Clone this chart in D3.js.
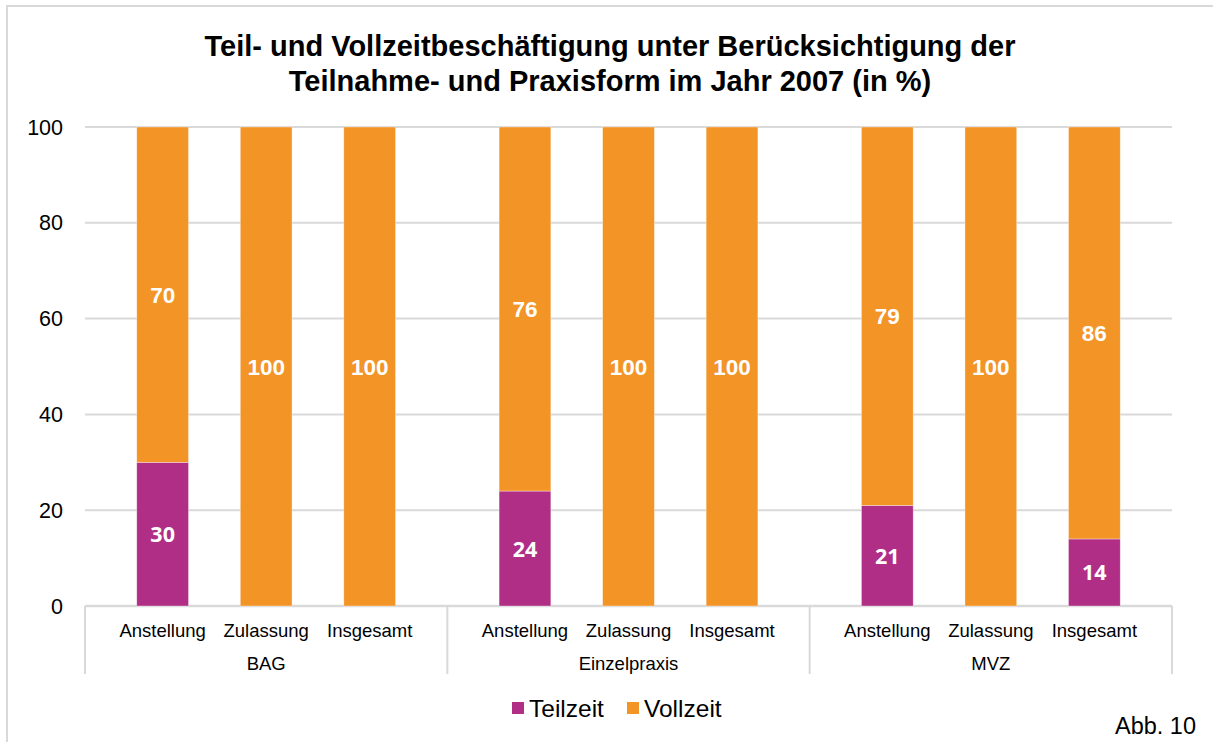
<!doctype html>
<head>
  <meta charset="utf-8">
  <script src="https://cdnjs.cloudflare.com/ajax/libs/d3/7.8.2/d3.min.js"></script>
</head>
<style>
    body { margin: 0; background: #fff; }
    svg { display: block; font-family: "Liberation Sans", Arial, sans-serif; }
</style>
<body>
    <div id="chart"></div>
    <script>
        // Daten
        const groups = ["BAG", "Einzelpraxis", "MVZ"];
        const forms = ["Anstellung", "Zulassung", "Insgesamt"];
        const teilzeit = [30, 0, 0, 24, 0, 0, 21, 0, 14];
        const vollzeit = [70, 100, 100, 76, 100, 100, 79, 100, 86];
        const yTicks = [0, 20, 40, 60, 80, 100];
        const seriesNames = ["Teilzeit", "Vollzeit"];
        const colors = ["#b02e86", "#f39427"];

        const rows = [];
        groups.forEach((g, gi) => forms.forEach((f, fi) => {
            const i = gi * forms.length + fi;
            rows.push({group: g, form: f, Teilzeit: teilzeit[i], Vollzeit: vollzeit[i]});
        }));

        const width = 1213, height = 742;
        const plotLeft = 85, plotRight = 1172, plotTop = 127, plotBottom = 606;

        const svg = d3.select('#chart').append('svg')
            .attr('width', width)
            .attr('height', height);

        // Rahmen
        svg.append('rect')
            .attr('x', 7).attr('y', 6)
            .attr('width', width + 10).attr('height', height + 10)
            .attr('fill', 'none')
            .attr('stroke', '#d9d9d9')
            .attr('stroke-width', 2);

        // Titel
        svg.append('text')
            .attr('x', 610).attr('y', 0)
            .attr('text-anchor', 'middle')
            .attr('font-size', 29).attr('font-weight', 'bold')
            .selectAll('tspan')
            .data(["Teil- und Vollzeitbeschäftigung unter Berücksichtigung der",
                   "Teilnahme- und Praxisform im Jahr 2007 (in %)"])
            .enter().append('tspan')
            .attr('x', 610)
            .attr('y', (d, i) => 56 + i * 35)
            .text(d => d);

        const y = d3.scaleLinear().domain([0, 100]).range([plotBottom, plotTop]);
        const xGroup = d3.scaleBand().domain(groups).range([plotLeft, plotRight]);
        const xForm = d3.scaleBand().domain(forms)
            .range([0, xGroup.bandwidth()])
            .paddingInner(0.5).paddingOuter(0.5);

        // Gitterlinien
        svg.append('g').selectAll('line')
            .data(yTicks)
            .enter().append('line')
            .attr('x1', plotLeft).attr('x2', plotRight)
            .attr('y1', d => y(d)).attr('y2', d => y(d))
            .attr('stroke', '#d9d9d9')
            .attr('stroke-width', d => d === 0 ? 2.5 : 2);

        svg.append('g').selectAll('text')
            .data(yTicks)
            .enter().append('text')
            .attr('x', 63).attr('y', d => y(d) + 7.5)
            .attr('text-anchor', 'end')
            .attr('font-size', 21.5)
            .attr('fill', '#000')
            .text(d => d);

        // Balken
        const stack = d3.stack().keys(seriesNames)(rows);
        const layers = svg.append('g').selectAll('g')
            .data(stack)
            .enter().append('g')
            .attr('fill', (d, i) => colors[i]);

        layers.selectAll('rect')
            .data(d => d)
            .enter().append('rect')
            .attr('x', d => xGroup(d.data.group) + xForm(d.data.form))
            .attr('width', xForm.bandwidth())
            .attr('y', d => y(d[1]))
            .attr('height', d => y(d[0]) - y(d[1]))
            .attr('stroke', 'rgba(255,255,255,0.5)')
            .attr('stroke-width', 0.7);

        // Datenbeschriftungen
        layers.each(function(layer, li) {
            d3.select(this).selectAll('text')
                .data(layer.filter(d => d[1] - d[0] > 0))
                .enter().append('text')
                .attr('x', d => xGroup(d.data.group) + xForm(d.data.form) + xForm.bandwidth() / 2)
                .attr('y', d => (y(d[0]) + y(d[1])) / 2 + 8)
                .attr('text-anchor', 'middle')
                .attr('fill', '#fff')
                .attr('font-weight', 'bold')
                .attr('font-size', li === 0 ? 21.5 : 22.5)
                .attr('font-family', li === 0 ? '"Open Sans", sans-serif' : null)
                .text(d => d[1] - d[0]);
        });

        // Kategorienachse
        const axis = svg.append('g');
        axis.selectAll('line.sep')
            .data(groups.map(g => xGroup(g)).concat([plotRight]))
            .enter().append('line')
            .attr('x1', d => d).attr('x2', d => d)
            .attr('y1', plotBottom).attr('y2', 674)
            .attr('stroke', '#d9d9d9').attr('stroke-width', 2);

        axis.selectAll('text.form')
            .data(rows)
            .enter().append('text')
            .attr('x', d => xGroup(d.group) + xForm(d.form) + xForm.bandwidth() / 2)
            .attr('y', 637)
            .attr('text-anchor', 'middle')
            .attr('font-size', 18.5)
            .text(d => d.form);

        axis.selectAll('text.group')
            .data(groups)
            .enter().append('text')
            .attr('x', d => xGroup(d) + xGroup.bandwidth() / 2)
            .attr('y', 670)
            .attr('text-anchor', 'middle')
            .attr('font-size', 18.5)
            .text(d => d);

        // Legende
        const legendX = [512, 627];
        const legend = svg.append('g').selectAll('g')
            .data(seriesNames)
            .enter().append('g')
            .attr('transform', (d, i) => `translate(${legendX[i]},702)`);
        legend.append('rect')
            .attr('width', 12).attr('height', 12)
            .attr('fill', (d, i) => colors[i]);
        legend.append('text')
            .attr('x', 17).attr('y', 15)
            .attr('font-size', 24.5)
            .text(d => d);

        svg.append('text')
            .attr('x', 1196).attr('y', 734)
            .attr('text-anchor', 'end')
            .attr('font-size', 23.5)
            .text('Abb. 10');
    </script>
</body>
